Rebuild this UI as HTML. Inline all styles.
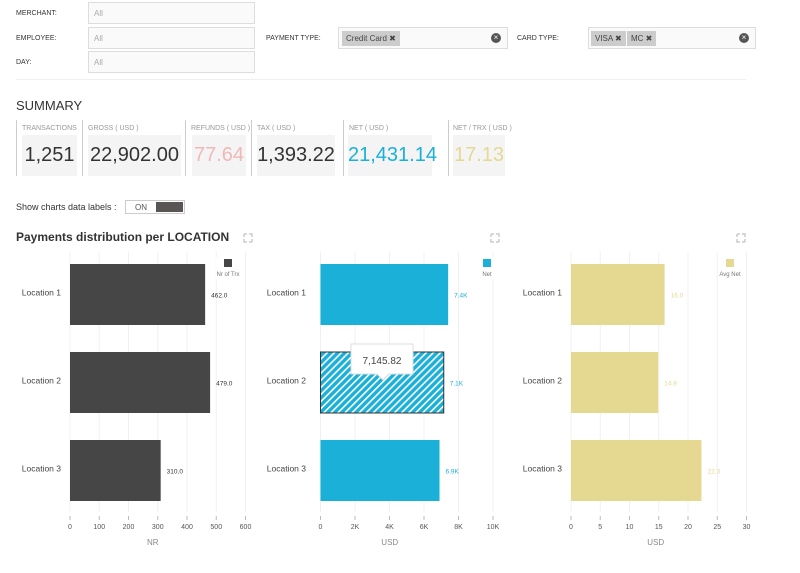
<!DOCTYPE html>
<html><head><meta charset="utf-8">
<style>
body{margin:0;width:800px;height:573px;background:#fff;font-family:"Liberation Sans",sans-serif;position:relative;overflow:hidden}
.a{position:absolute}
.lbl{font-size:7px;color:#333;}
.inp{border:1px solid #ddd;background:#fafafa;box-sizing:border-box;height:22px;font-size:8px;color:#aaa;padding:6px 0 0 5px}
.tag{position:absolute;top:3px;height:15px;background:#ccc;font-size:8px;color:#444;line-height:15px;padding:0 4px}
.clr{position:absolute;right:6px;top:5px;width:10px;height:10px;border-radius:50%;background:#555;color:#fff;font-size:8px;line-height:10px;text-align:center}
.cl{position:absolute;top:120px;height:56px;border-left:1px solid #ccc}
.ct{position:absolute;top:125px;font-size:7px;color:#999}
.cv{position:absolute;top:135px;height:41px;background:#f4f4f4;font-size:20px;line-height:41px;text-align:center;color:#333}
</style></head><body>
<div class="a lbl" style="left:16px;top:10px">MERCHANT:</div>
<div class="a inp" style="left:88px;top:2px;width:167px">All</div>
<div class="a lbl" style="left:16px;top:35px">EMPLOYEE:</div>
<div class="a inp" style="left:88px;top:27px;width:167px">All</div>
<div class="a lbl" style="left:16px;top:59px">DAY:</div>
<div class="a inp" style="left:88px;top:51px;width:167px">All</div>
<div class="a lbl" style="left:266px;top:35px">PAYMENT TYPE:</div>
<div class="a inp" style="left:338px;top:27px;width:170px"><span class="tag" style="left:3px">Credit Card ✖</span><span class="clr">×</span></div>
<div class="a lbl" style="left:517px;top:35px">CARD TYPE:</div>
<div class="a inp" style="left:588px;top:27px;width:168px"><span class="tag" style="left:2px">VISA ✖</span><span class="tag" style="left:38px">MC ✖</span><span class="clr">×</span></div>
<div class="a" style="left:16px;top:79px;width:730px;height:1px;background:#f0f0f0"></div>
<div class="a" style="left:16px;top:98px;font-size:13px;color:#333">SUMMARY</div>

<div class="cl" style="left:16px"></div><div class="ct" style="left:22px">TRANSACTIONS</div><div class="cv" style="left:22px;width:55px">1,251</div>
<div class="cl" style="left:82px"></div><div class="ct" style="left:88px">GROSS ( USD )</div><div class="cv" style="left:88px;width:93px">22,902.00</div>
<div class="cl" style="left:185px"></div><div class="ct" style="left:191px">REFUNDS ( USD )</div><div class="cv" style="left:192px;width:54px;color:#f0b8b8">77.64</div>
<div class="cl" style="left:251px"></div><div class="ct" style="left:257px">TAX ( USD )</div><div class="cv" style="left:257px;width:78px">1,393.22</div>
<div class="cl" style="left:343px"></div><div class="ct" style="left:349px">NET ( USD )</div><div class="cv" style="left:348px;width:84px;color:#1bb0d8">21,431.14</div>
<div class="cl" style="left:448px"></div><div class="ct" style="left:453px">NET / TRX ( USD )</div><div class="cv" style="left:453px;width:52px;color:#e5d890">17.13</div>

<div class="a" style="left:16px;top:202px;font-size:9px;color:#333">Show charts data labels :</div>
<div class="a" style="left:125px;top:200px;width:60px;height:14px;border:1px solid #ccc;box-sizing:border-box;font-size:8px;color:#555"><span style="position:absolute;left:9px;top:2px">ON</span><span style="position:absolute;left:30px;top:1px;width:27px;height:10px;background:#5a5555"></span></div>
<div class="a" style="left:16px;top:230px;font-size:12px;font-weight:bold;color:#333">Payments distribution per LOCATION</div>

<svg class="a" style="left:0;top:0" width="800" height="573" id="svg">
<defs><pattern id="hatch" width="5" height="5" patternUnits="userSpaceOnUse" patternTransform="rotate(45)"><rect width="5" height="5" fill="#1bb0d8"/><rect width="1.6" height="5" fill="#fff"/></pattern></defs>
</svg>
<script>
const categories=["Location 1","Location 2","Location 3"];
const trxValues=[462,479,310];
const netValues=[7400,7145.82,6900];
const avgNetValues=[16.0,14.9,22.3];
const trxTicks=[0,100,200,300,400,500,600];
const netTicks=[0,2000,4000,6000,8000,10000];
const netTickLabels=["0","2K","4K","6K","8K","10K"];
const avgTicks=[0,5,10,15,20,25,30];
const trxLabels=["462.0","479.0","310.0"];
const netLabels=["7.4K","7.1K","6.9K"];
const avgLabels=["16.0","14.9","22.3"];
const svg=document.getElementById('svg');
const NS='http://www.w3.org/2000/svg';
function mk(t,a,p){const e=document.createElementNS(NS,t);for(const k in a)e.setAttribute(k,a[k]);(p||svg).appendChild(e);return e;}
const charts=[
 {x0:70,w:175.5,max:600,vals:trxValues,ticks:trxTicks,tl:trxTicks.map(String),lab:trxLabels,col:'#464646',lc:'#333',title:'NR',leg:'Nr of Trx',lx:228,catR:61,name:'trx'},
 {x0:320.5,w:172.5,max:10000,vals:netValues,ticks:netTicks,tl:netTickLabels,lab:netLabels,col:'#1bb0d8',lc:'#1bb0d8',title:'USD',leg:'Net',lx:487,catR:306,name:'net'},
 {x0:571,w:175.5,max:30,vals:avgNetValues,ticks:avgTicks,tl:avgTicks.map(String),lab:avgLabels,col:'#e5d890',lc:'#e5d890',title:'USD',leg:'Avg Net',lx:730,catR:562,name:'avg-net'}];
const bandTop=[264,352,440],bh=61;
charts.forEach((c,ci)=>{
 const sx=v=>c.x0+v/c.max*c.w;
 c.ticks.forEach((t,i)=>{
  let g=mk('line',{x1:sx(t),x2:sx(t),y1:252,y2:512,stroke:'#f0f0f0'});
  
  mk('line',{x1:sx(t),x2:sx(t),y1:516,y2:520,stroke:'#bbb'});
  let tx=mk('text',{x:sx(t),y:529,'font-size':7,'text-anchor':'middle',fill:'#555'});tx.textContent=c.tl[i];
  
 });
 let at=mk('text',{x:c.x0+c.w/2-(ci==0?5:ci==1?17:3),y:545,'font-size':8,'text-anchor':'middle',fill:'#888'});at.textContent=c.title;
 
 c.vals.forEach((v,i)=>{
  const y=bandTop[i];
  let r=mk('rect',{x:c.x0,y:y,width:sx(v)-c.x0,height:bh,fill:(ci==1&&i==1)?'url(#hatch)':c.col,stroke:(ci==1&&i==1)?'#333':'none'});
  
  let l=mk('text',{x:sx(v)+6,y:y+bh/2+3,'font-size':6.5,fill:c.lc});l.textContent=c.lab[i];
  
  let ct=mk('text',{x:c.catR,y:y+bh/2+1,'font-size':8.5,'text-anchor':'end',fill:'#444'});ct.textContent=categories[i];
  
 });
 mk('rect',{x:c.lx-12,y:257,width:24,height:22,fill:'#fff'});
 let ls=mk('rect',{x:c.lx-4,y:259,width:8,height:8,fill:c.col});
 
 let lt=mk('text',{x:c.lx,y:276,'font-size':6,'text-anchor':'middle',fill:'#777'});lt.textContent=c.leg;
 
 const ex=[248,495,741][ci];
 let ei=mk('path',{d:`M${ex-4} ${234}h3M${ex-4} 234v3M${ex+4} 242h-3M${ex+4} 242v-3M${ex+1} 234h3v3M${ex-4} 239v3h3`,stroke:'#ccc','stroke-width':1.5,fill:'none'});
 
});
let tip=mk('g',{});

mk('path',{d:'M351 344h62v30h-24l-6 6l-6-6h-26z',fill:'#fff',stroke:'#ddd'},tip);
let tt=mk('text',{x:382,y:364,'font-size':10,'text-anchor':'middle',fill:'#444'},tip);tt.textContent='7,145.82';
</script>
</body></html>
